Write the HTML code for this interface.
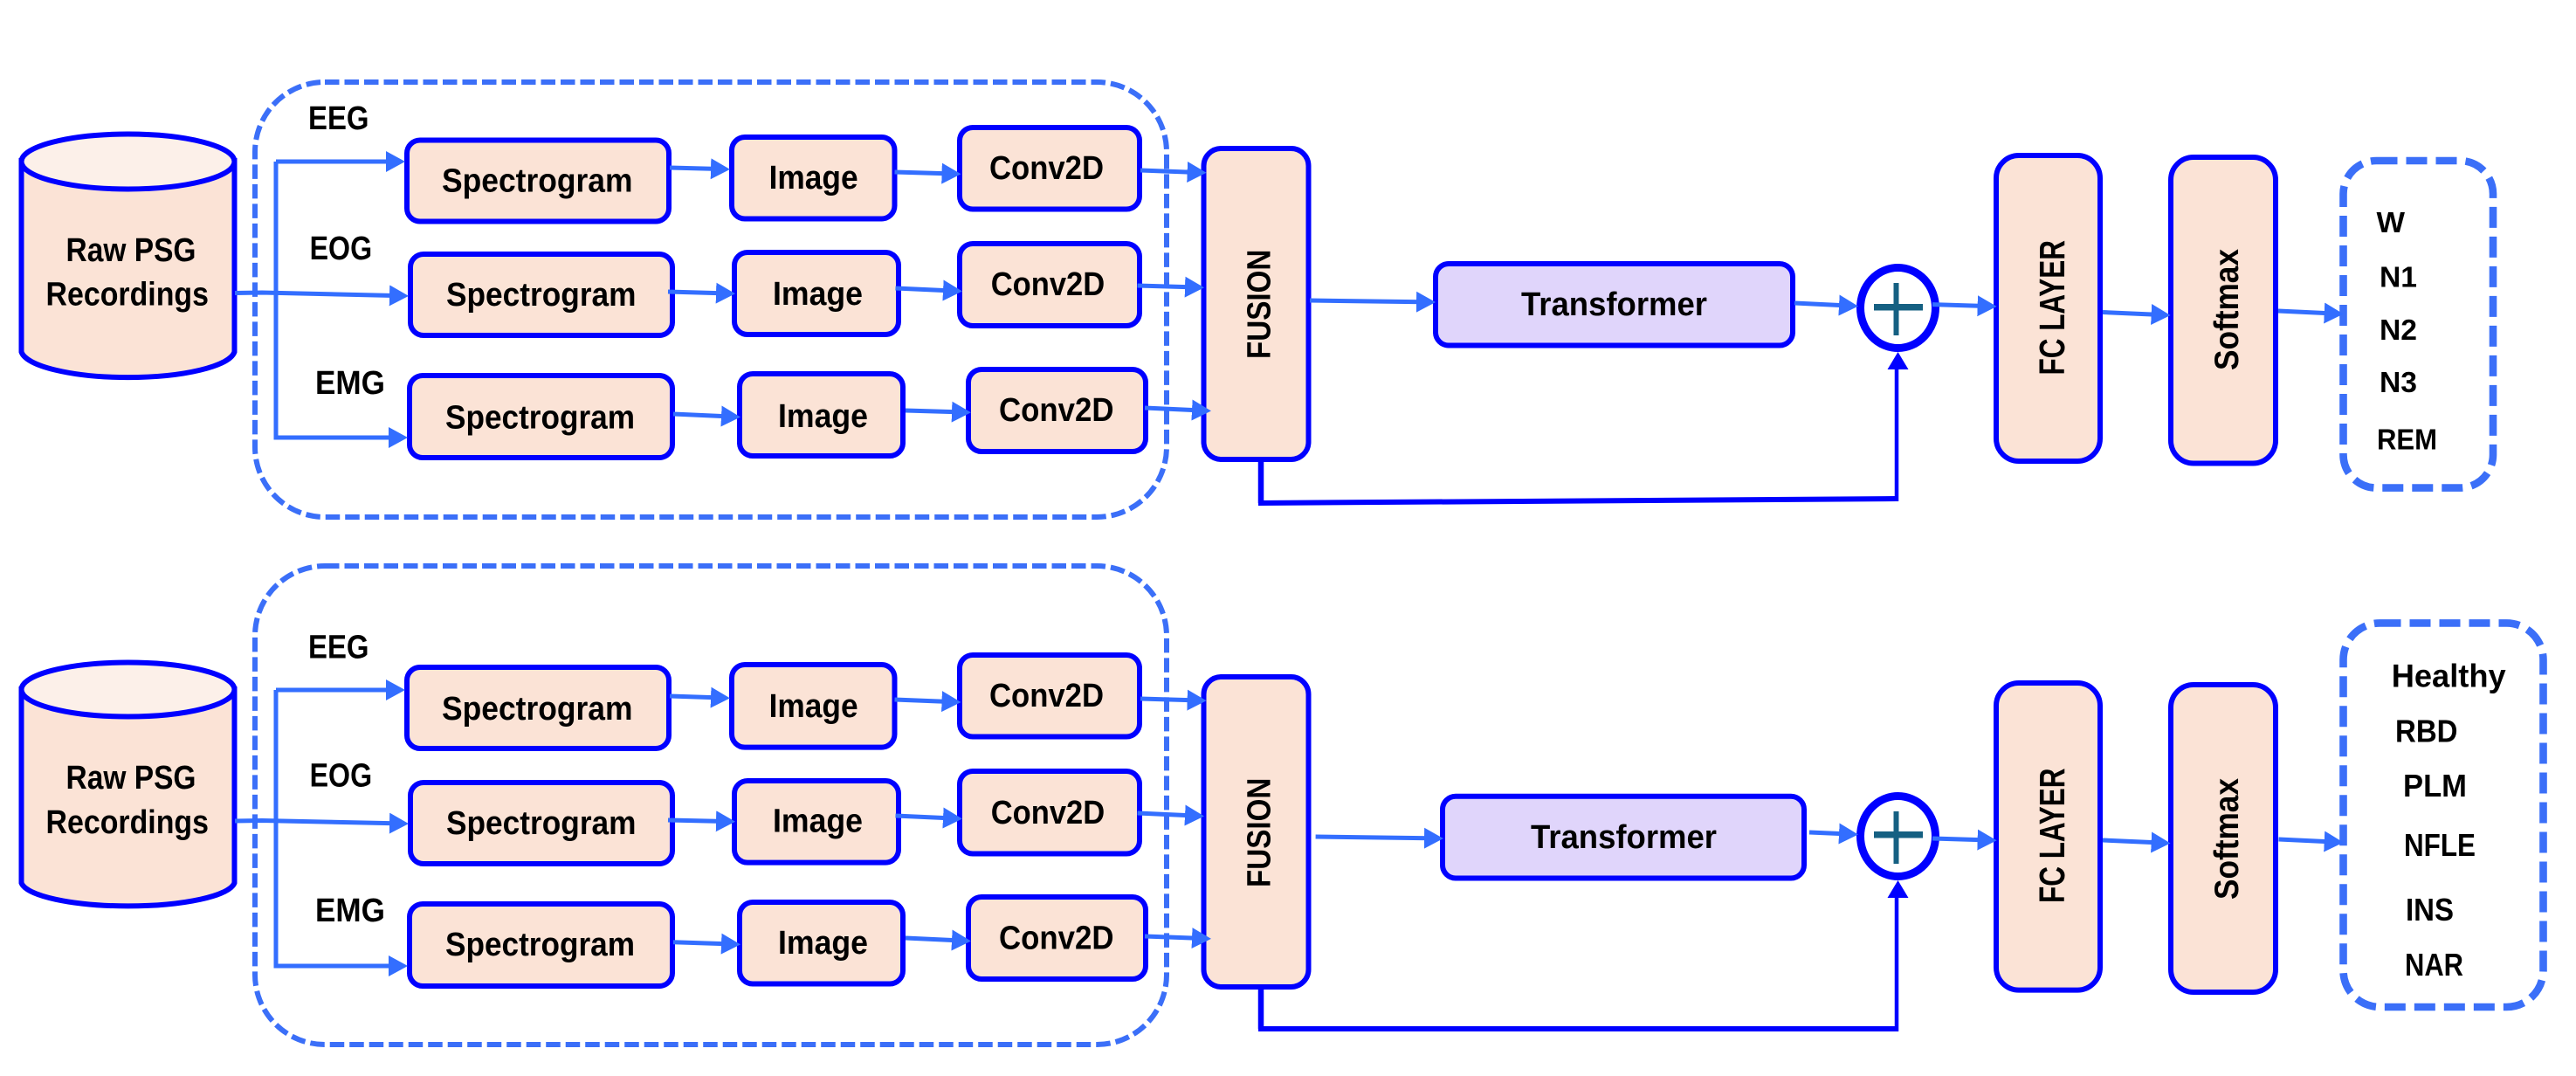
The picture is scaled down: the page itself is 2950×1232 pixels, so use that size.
<!DOCTYPE html>
<html><head><meta charset="utf-8"><style>
html,body{margin:0;padding:0;background:#fff}
svg{display:block}
text{font-family:"Liberation Sans",sans-serif;font-weight:bold;fill:#000}
.b{fill:#FBE3D6;stroke:#0000FF;stroke-width:6}
.t{fill:#E0D5FB;stroke:#0000FF;stroke-width:6}
.a{stroke:#336EFF;stroke-width:5;fill:none;marker-end:url(#h)}
.d{fill:none;stroke:#3B6FF8}
</style></head><body>
<svg xmlns="http://www.w3.org/2000/svg" width="2950" height="1232" viewBox="0 0 2950 1232">
<defs>
<marker id="h" markerUnits="userSpaceOnUse" markerWidth="24" markerHeight="28" refX="6" refY="14" orient="auto"><path d="M0,2 L22,14 L0,26 Z" fill="#336EFF"/></marker>
</defs>
<rect width="2950" height="1232" fill="#fff"/>

<!-- dashed groups -->
<rect class="d" x="292" y="94" width="1044" height="498" rx="80" ry="80" stroke-width="6" stroke-dasharray="16.5 6"/>
<rect class="d" x="292" y="648" width="1044" height="548" rx="80" ry="80" stroke-width="6" stroke-dasharray="16.5 6"/>
<rect class="d" x="2683.5" y="184" width="171.5" height="374.6" rx="38" ry="38" stroke-width="8.6" stroke-dasharray="24 10"/>
<rect class="d" x="2683.5" y="713.4" width="229" height="439.6" rx="42" ry="42" stroke-width="8.6" stroke-dasharray="24 10"/>

<!-- cylinders -->
<path d="M24.5,184 V403 A122.5,32 0 0 0 268.5,403 V184 Z" fill="#FBE3D6" stroke="#0000FF" stroke-width="6"/>
<ellipse cx="146.5" cy="185" rx="122" ry="31.5" fill="#FCF0E9" stroke="#0000FF" stroke-width="6"/>
<path d="M24.5,789 V1011 A122.5,29 0 0 0 268.5,1011 V789 Z" fill="#FBE3D6" stroke="#0000FF" stroke-width="6"/>
<ellipse cx="146.5" cy="789.5" rx="122" ry="31" fill="#FCF0E9" stroke="#0000FF" stroke-width="6"/>

<!-- feedback -->
<path d="M1444,529 V576" fill="none" stroke="#0000FF" stroke-width="6.5"/>
<path d="M1441,576 L2172,571" fill="none" stroke="#0000FF" stroke-width="6"/>
<path d="M2172,574 V420" fill="none" stroke="#0000FF" stroke-width="4.5"/>
<path d="M1444,1133 V1178" fill="none" stroke="#0000FF" stroke-width="6.5"/>
<path d="M1441,1178 H2174" fill="none" stroke="#0000FF" stroke-width="6"/>
<path d="M2172,1181 V1025" fill="none" stroke="#0000FF" stroke-width="4.5"/>

<!-- top boxes -->
<rect class="b" x="466" y="160.5" width="300" height="93" rx="15"/>
<rect class="b" x="470" y="291" width="300" height="93" rx="15"/>
<rect class="b" x="469" y="430" width="301" height="94" rx="15"/>
<rect class="b" x="838" y="157" width="186.5" height="93.5" rx="15"/>
<rect class="b" x="841" y="289" width="188" height="94" rx="15"/>
<rect class="b" x="847" y="428" width="187" height="94" rx="15"/>
<rect class="b" x="1099" y="146" width="206" height="93.5" rx="15"/>
<rect class="b" x="1099" y="279" width="206" height="94" rx="15"/>
<rect class="b" x="1109" y="423" width="203" height="94" rx="15"/>
<rect class="b" x="1378.5" y="170" width="120" height="356" rx="20"/>
<rect class="t" x="1644" y="302" width="409" height="93.5" rx="15"/>
<rect class="b" x="2286" y="178" width="119" height="350" rx="26"/>
<rect class="b" x="2486" y="180" width="120" height="350.5" rx="26"/>
<!-- bottom boxes -->
<rect class="b" x="466" y="764" width="300" height="93" rx="15"/>
<rect class="b" x="470" y="896" width="300" height="93" rx="15"/>
<rect class="b" x="469" y="1035" width="301" height="94" rx="15"/>
<rect class="b" x="838" y="761" width="186.5" height="94.6" rx="15"/>
<rect class="b" x="841" y="894" width="188" height="93.6" rx="15"/>
<rect class="b" x="847" y="1033" width="187" height="93.5" rx="15"/>
<rect class="b" x="1099" y="750" width="206" height="93.5" rx="15"/>
<rect class="b" x="1099" y="883" width="206" height="94.5" rx="15"/>
<rect class="b" x="1109" y="1027" width="203" height="94" rx="15"/>
<rect class="b" x="1378.5" y="775" width="120" height="355" rx="20"/>
<rect class="t" x="1652" y="911.7" width="414" height="93.8" rx="15"/>
<rect class="b" x="2286" y="782" width="119" height="351.6" rx="26"/>
<rect class="b" x="2486" y="784" width="120" height="352" rx="26"/>

<!-- adders -->
<ellipse cx="2173.5" cy="352.5" rx="43" ry="46" fill="#fff" stroke="#0000FF" stroke-width="9"/>
<rect x="2146" y="348" width="56" height="7.5" fill="#156082"/>
<rect x="2168.5" y="324" width="6" height="60" fill="#156082"/>
<ellipse cx="2173.5" cy="957.5" rx="43" ry="46" fill="#fff" stroke="#0000FF" stroke-width="9"/>
<rect x="2146" y="952" width="56" height="7.5" fill="#156082"/>
<rect x="2168.5" y="929" width="6" height="60" fill="#156082"/>

<polygon points="2173.5,403 2185.5,423 2161.5,423" fill="#0000FF"/>
<polygon points="2173.5,1008 2185.5,1028 2161.5,1028" fill="#0000FF"/>

<!-- top row connectors (drawn over boxes so arrowheads stay whole) -->
<path class="a" d="M316,185 V501 H451"/>
<path class="a" d="M316,185 H448"/>
<path class="a" d="M269,335.5 L300,335 L452,338.5"/>
<path class="a" d="M767,192 L820,193.4"/>
<path class="a" d="M765,334 L826,335.8"/>
<path class="a" d="M771,474 L832,476.8"/>
<path class="a" d="M1024.5,197 L1084.5,198.8"/>
<path class="a" d="M1025.5,330 L1086,332.8"/>
<path class="a" d="M1037,470 L1096,471.8"/>
<path class="a" d="M1306,195 L1365.6,197.2"/>
<path class="a" d="M1302.5,327 L1363,328.8"/>
<path class="a" d="M1311,467 L1371,469.8"/>
<path class="a" d="M1500,344 L1628,345.8"/>
<path class="a" d="M2055,347 L2112,349.8"/>
<path class="a" d="M2213,348.6 L2270.6,350.4"/>
<path class="a" d="M2408,357.5 L2469.6,360.3"/>
<path class="a" d="M2609,356 L2667.7,358.8"/>
<!-- bottom row connectors -->
<path class="a" d="M316,790 H448"/>
<path class="a" d="M316,790 V1106 H451"/>
<path class="a" d="M269,940 L300,939.5 L452,942.8"/>
<path class="a" d="M767,797 L820,798.8"/>
<path class="a" d="M765,939 L826,940.4"/>
<path class="a" d="M771,1078.7 L832,1080.8"/>
<path class="a" d="M1024.5,801 L1084.5,803.4"/>
<path class="a" d="M1025.5,934 L1086,936.8"/>
<path class="a" d="M1037,1074 L1096,1076.8"/>
<path class="a" d="M1306,800 L1365.6,801.8"/>
<path class="a" d="M1302.5,931 L1363,933.8"/>
<path class="a" d="M1311,1072 L1371,1074.3"/>
<path class="a" d="M1506.6,958 L1637,959.8"/>
<path class="a" d="M2072,953 L2112,954.8"/>
<path class="a" d="M2213,960 L2270.6,961.8"/>
<path class="a" d="M2408,962 L2469.6,964.8"/>
<path class="a" d="M2609.5,961 L2667.7,963.8"/>

<!-- top text -->
<text x="353" y="148" font-size="38" textLength="69.5" lengthAdjust="spacingAndGlyphs">EEG</text>
<text x="354.6" y="297" font-size="38" textLength="71.5" lengthAdjust="spacingAndGlyphs">EOG</text>
<text x="361" y="451" font-size="38" textLength="80" lengthAdjust="spacingAndGlyphs">EMG</text>
<text x="75.5" y="299" font-size="38" textLength="149" lengthAdjust="spacingAndGlyphs">Raw PSG</text>
<text x="52.5" y="349.6" font-size="38" textLength="186.5" lengthAdjust="spacingAndGlyphs">Recordings</text>
<text x="506" y="219.5" font-size="38" textLength="218.5" lengthAdjust="spacingAndGlyphs">Spectrogram</text>
<text x="511" y="350" font-size="38" textLength="217.5" lengthAdjust="spacingAndGlyphs">Spectrogram</text>
<text x="510" y="490.5" font-size="38" textLength="217" lengthAdjust="spacingAndGlyphs">Spectrogram</text>
<text x="880.6" y="216" font-size="38" textLength="102" lengthAdjust="spacingAndGlyphs">Image</text>
<text x="885" y="349" font-size="38" textLength="103" lengthAdjust="spacingAndGlyphs">Image</text>
<text x="891" y="489" font-size="38" textLength="103" lengthAdjust="spacingAndGlyphs">Image</text>
<text x="1133" y="205" font-size="38" textLength="131" lengthAdjust="spacingAndGlyphs">Conv2D</text>
<text x="1134.7" y="338" font-size="38" textLength="130.5" lengthAdjust="spacingAndGlyphs">Conv2D</text>
<text x="1144" y="482" font-size="38" textLength="131.5" lengthAdjust="spacingAndGlyphs">Conv2D</text>
<text transform="translate(1454.6,411) rotate(-90)" font-size="38" textLength="125.4" lengthAdjust="spacingAndGlyphs">FUSION</text>
<text x="1742" y="361" font-size="38" textLength="213" lengthAdjust="spacingAndGlyphs">Transformer</text>
<text transform="translate(2364,429.5) rotate(-90)" font-size="41" textLength="154.5" lengthAdjust="spacingAndGlyphs">FC LAYER</text>
<text transform="translate(2563,424) rotate(-90)" font-size="39" textLength="139" lengthAdjust="spacingAndGlyphs">Softmax</text>
<text x="2721.5" y="266" font-size="33" textLength="32.5" lengthAdjust="spacingAndGlyphs">W</text>
<text x="2725" y="328.6" font-size="33" textLength="43" lengthAdjust="spacingAndGlyphs">N1</text>
<text x="2725" y="389" font-size="33" textLength="43" lengthAdjust="spacingAndGlyphs">N2</text>
<text x="2725" y="449" font-size="33" textLength="43" lengthAdjust="spacingAndGlyphs">N3</text>
<text x="2722" y="514.6" font-size="33" textLength="69" lengthAdjust="spacingAndGlyphs">REM</text>

<!-- bottom text -->
<text x="353" y="753.6" font-size="38" textLength="69.5" lengthAdjust="spacingAndGlyphs">EEG</text>
<text x="354.6" y="900.7" font-size="38" textLength="71.5" lengthAdjust="spacingAndGlyphs">EOG</text>
<text x="361" y="1055" font-size="38" textLength="80" lengthAdjust="spacingAndGlyphs">EMG</text>
<text x="75.5" y="903" font-size="38" textLength="149" lengthAdjust="spacingAndGlyphs">Raw PSG</text>
<text x="52.5" y="954" font-size="38" textLength="186.5" lengthAdjust="spacingAndGlyphs">Recordings</text>
<text x="506" y="824" font-size="38" textLength="218.5" lengthAdjust="spacingAndGlyphs">Spectrogram</text>
<text x="511" y="955" font-size="38" textLength="217.5" lengthAdjust="spacingAndGlyphs">Spectrogram</text>
<text x="510" y="1094" font-size="38" textLength="217" lengthAdjust="spacingAndGlyphs">Spectrogram</text>
<text x="880.6" y="821" font-size="38" textLength="102" lengthAdjust="spacingAndGlyphs">Image</text>
<text x="885" y="952.6" font-size="38" textLength="103" lengthAdjust="spacingAndGlyphs">Image</text>
<text x="891" y="1092" font-size="38" textLength="103" lengthAdjust="spacingAndGlyphs">Image</text>
<text x="1133" y="809" font-size="38" textLength="131" lengthAdjust="spacingAndGlyphs">Conv2D</text>
<text x="1134.7" y="943" font-size="38" textLength="130.5" lengthAdjust="spacingAndGlyphs">Conv2D</text>
<text x="1144" y="1086.6" font-size="38" textLength="131.5" lengthAdjust="spacingAndGlyphs">Conv2D</text>
<text transform="translate(1454.6,1016) rotate(-90)" font-size="38" textLength="125.4" lengthAdjust="spacingAndGlyphs">FUSION</text>
<text x="1753" y="971" font-size="38" textLength="213" lengthAdjust="spacingAndGlyphs">Transformer</text>
<text transform="translate(2364,1034) rotate(-90)" font-size="41" textLength="154.5" lengthAdjust="spacingAndGlyphs">FC LAYER</text>
<text transform="translate(2563,1030) rotate(-90)" font-size="39" textLength="139" lengthAdjust="spacingAndGlyphs">Softmax</text>
<text x="2738.7" y="786.4" font-size="37" textLength="131" lengthAdjust="spacingAndGlyphs">Healthy</text>
<text x="2743" y="849.4" font-size="36" textLength="71.5" lengthAdjust="spacingAndGlyphs">RBD</text>
<text x="2752" y="912" font-size="36" textLength="73" lengthAdjust="spacingAndGlyphs">PLM</text>
<text x="2753" y="980" font-size="36" textLength="82" lengthAdjust="spacingAndGlyphs">NFLE</text>
<text x="2755" y="1054" font-size="36" textLength="55" lengthAdjust="spacingAndGlyphs">INS</text>
<text x="2754" y="1117" font-size="36" textLength="67" lengthAdjust="spacingAndGlyphs">NAR</text>
</svg>
</body></html>
